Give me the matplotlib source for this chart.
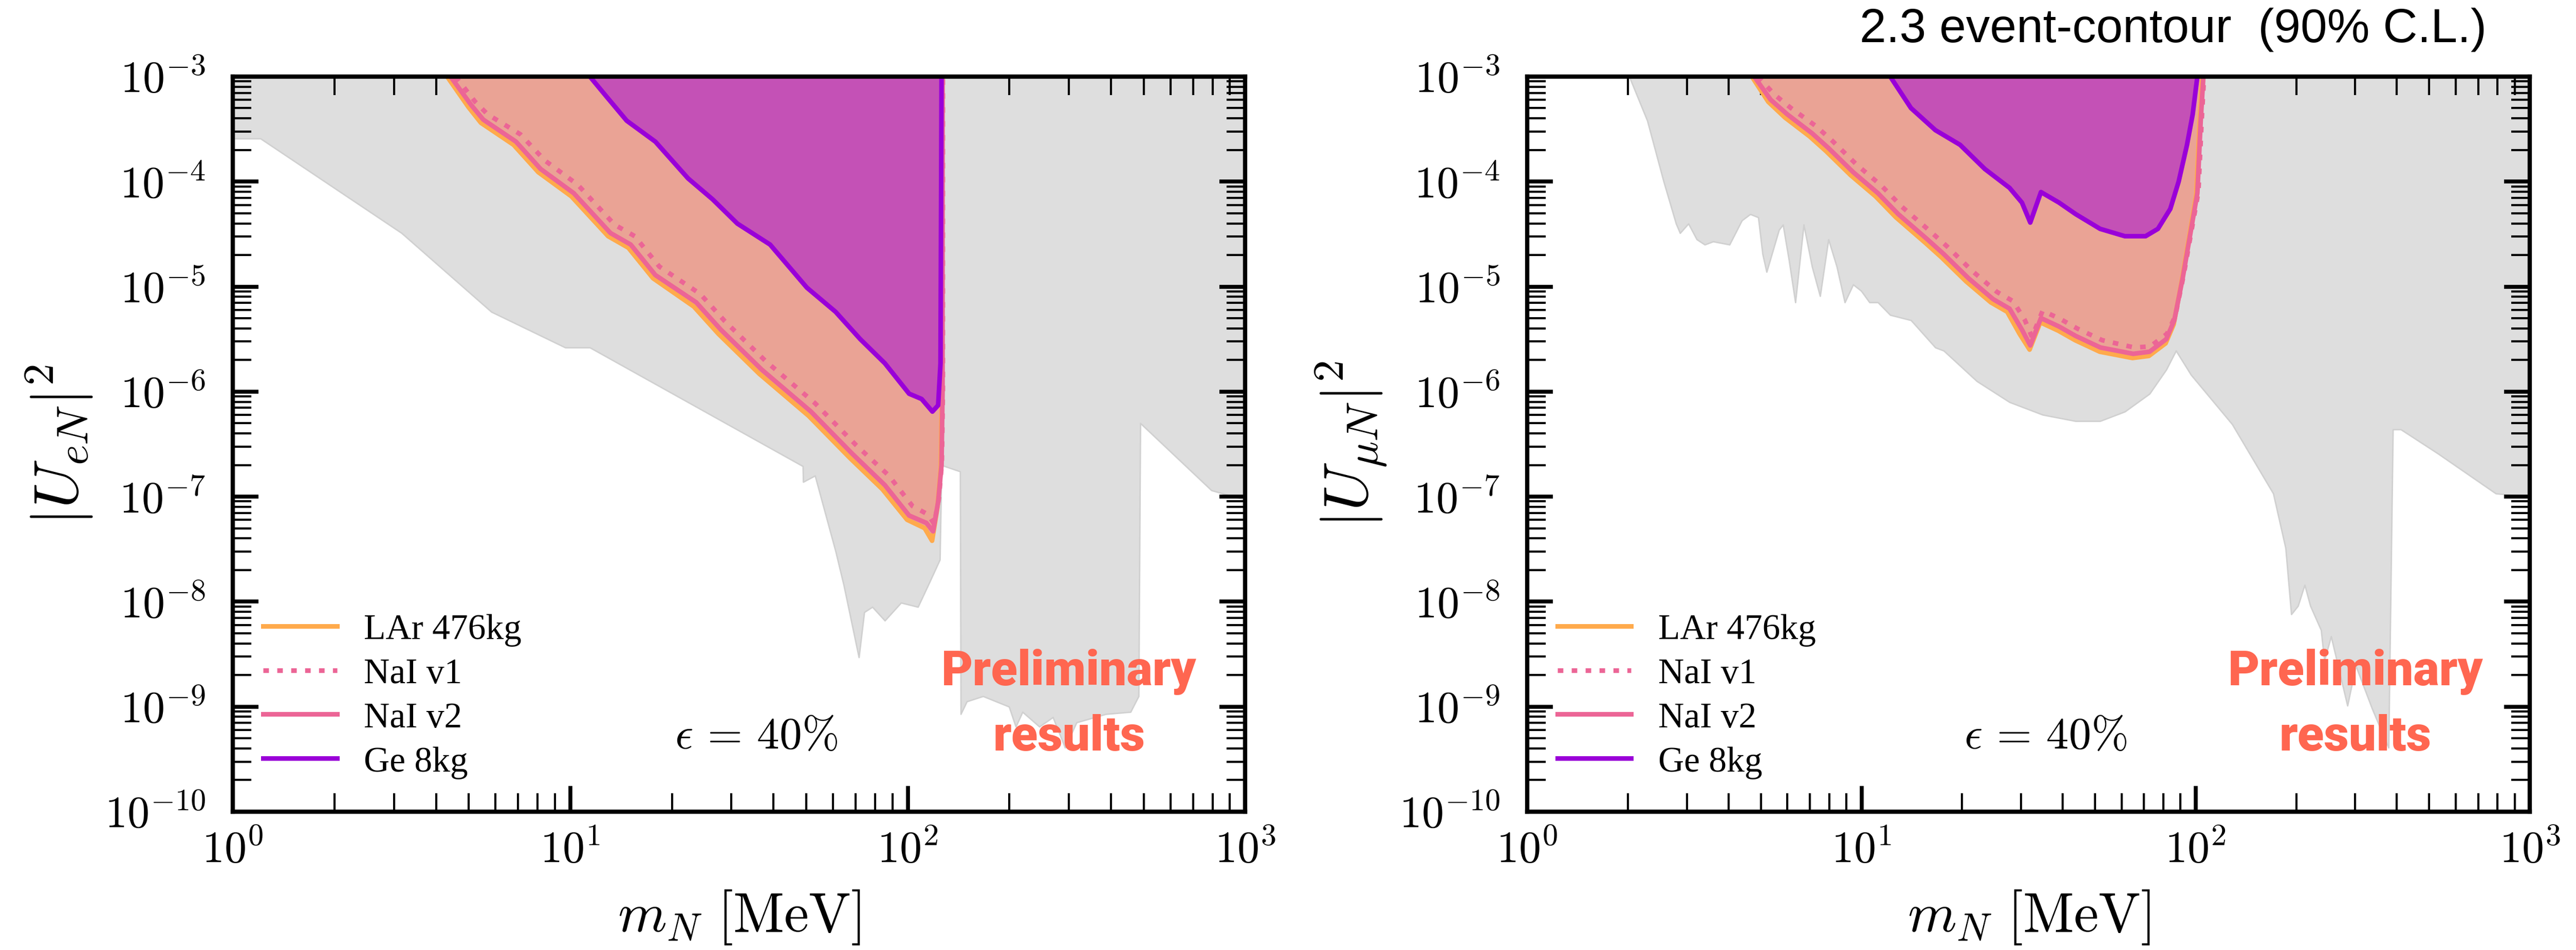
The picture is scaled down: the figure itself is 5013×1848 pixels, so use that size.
import numpy as np
import matplotlib
matplotlib.use('Agg')
import matplotlib.pyplot as plt
from matplotlib.ticker import LogLocator, NullFormatter, FuncFormatter

plt.rcParams['mathtext.fontset'] = 'cm'
plt.rcParams['font.family'] = ['Liberation Serif', 'DejaVu Serif']

# ---------------- data: log10(m_N / MeV), log10(|U|^2) ----------------
# electron mixing panel
gray_e_logm = [0.0, 0.082, 0.50, 0.766, 0.985, 1.058, 1.689, 1.690, 1.725, 1.786, 1.81, 1.855, 1.871,
               1.895, 1.932, 1.98, 2.03, 2.065, 2.095, 2.100, 2.155, 2.157, 2.175, 2.223, 2.30, 2.32,
               2.34, 2.39, 2.43, 2.466, 2.50, 2.587, 2.66, 2.684, 2.689, 2.90, 3.0]
gray_e_logU = [-3.59, -3.59, -4.49, -5.24, -5.58, -5.58, -6.71, -6.86, -6.80, -7.52, -7.84, -8.53, -8.10,
               -8.05, -8.18, -8.01, -8.05, -7.81, -7.60, -6.70, -6.76, -9.07, -8.95, -8.90, -9.00, -9.19,
               -9.05, -9.19, -9.10, -9.39, -9.15, -9.07, -9.05, -8.90, -6.30, -6.94, -7.03]

lar_e_logm = [0.635, 0.698, 0.735, 0.832, 0.905, 1.003, 1.112, 1.172, 1.245, 1.366, 1.439, 1.560, 1.706,
              1.828, 1.925, 1.998, 2.050, 2.072, 2.088, 2.098, 2.101, 2.101]
lar_e_logU = [-3.0, -3.29, -3.44, -3.65, -3.91, -4.14, -4.52, -4.63, -4.92, -5.19, -5.45, -5.83, -6.23,
              -6.63, -6.93, -7.22, -7.30, -7.42, -7.10, -6.72, -6.0, -3.0]

nai1_e_logm = [0.660, 0.718, 0.755, 0.852, 0.925, 1.022, 1.131, 1.191, 1.264, 1.385, 1.458, 1.579, 1.725,
               1.847, 1.944, 2.014, 2.060, 2.078, 2.092, 2.101, 2.104, 2.104]
nai1_e_logU = [-3.0, -3.24, -3.36, -3.55, -3.80, -4.03, -4.41, -4.52, -4.81, -5.07, -5.33, -5.71, -6.11,
               -6.51, -6.80, -7.09, -7.17, -7.26, -7.02, -6.68, -6.0, -3.0]

nai2_e_logm = [0.645, 0.706, 0.742, 0.839, 0.912, 1.010, 1.119, 1.179, 1.252, 1.373, 1.446, 1.567, 1.713,
               1.835, 1.932, 2.004, 2.055, 2.075, 2.090, 2.100, 2.103, 2.103]
nai2_e_logU = [-3.0, -3.27, -3.41, -3.62, -3.88, -4.11, -4.49, -4.60, -4.89, -5.15, -5.41, -5.79, -6.19,
               -6.59, -6.89, -7.18, -7.25, -7.33, -7.05, -6.70, -6.0, -3.0]

ge_e_logm = [1.058, 1.107, 1.167, 1.252, 1.349, 1.422, 1.495, 1.592, 1.701, 1.786, 1.859, 1.932, 2.004,
             2.041, 2.073, 2.090, 2.097, 2.100]
ge_e_logU = [-3.0, -3.19, -3.42, -3.62, -3.97, -4.17, -4.40, -4.60, -5.01, -5.24, -5.50, -5.73, -6.02,
             -6.07, -6.19, -6.13, -5.73, -3.0]

# muon mixing panel
gray_mu_logm = [0.305, 0.359, 0.408, 0.445, 0.457, 0.482, 0.507, 0.531, 0.556, 0.605, 0.642, 0.667, 0.691,
                0.704, 0.716, 0.753, 0.765, 0.783, 0.802, 0.827, 0.852, 0.876, 0.901, 0.926, 0.950, 0.975,
                0.999, 1.024, 1.049, 1.086, 1.148, 1.221, 1.246, 1.345, 1.443, 1.542, 1.640, 1.714, 1.788,
                1.862, 1.912, 1.941, 1.986, 2.109, 2.232, 2.269, 2.286, 2.306, 2.326, 2.343, 2.375, 2.385,
                2.405, 2.454, 2.479, 2.528, 2.577, 2.590, 2.614, 2.725, 2.898, 3.0]
gray_mu_logU = [-3.00, -3.42, -4.00, -4.40, -4.49, -4.40, -4.55, -4.60, -4.57, -4.60, -4.37, -4.31, -4.34,
                -4.69, -4.86, -4.46, -4.41, -4.75, -5.15, -4.41, -4.81, -5.09, -4.55, -4.81, -5.15, -4.98,
                -5.04, -5.15, -5.15, -5.27, -5.32, -5.58, -5.61, -5.90, -6.10, -6.22, -6.28, -6.28, -6.19,
                -6.02, -5.79, -5.61, -5.84, -6.31, -6.97, -7.49, -8.12, -8.04, -7.84, -8.04, -8.27, -8.56,
                -8.33, -8.99, -8.61, -9.02, -9.39, -6.36, -6.36, -6.59, -6.97, -7.00]

lar_mu_logm = [0.672, 0.721, 0.771, 0.845, 0.894, 0.968, 1.042, 1.103, 1.190, 1.239, 1.313, 1.387, 1.436,
               1.473, 1.503, 1.535, 1.589, 1.639, 1.713, 1.811, 1.860, 1.910, 1.934, 1.958, 1.983, 2.002,
               2.012, 2.020]
lar_mu_logU = [-3.0, -3.24, -3.39, -3.57, -3.71, -3.94, -4.14, -4.34, -4.58, -4.72, -4.95, -5.15, -5.24,
               -5.45, -5.60, -5.34, -5.42, -5.51, -5.62, -5.68, -5.66, -5.54, -5.36, -4.95, -4.48, -4.12,
               -3.43, -3.0]

nai1_mu_logm = [0.690, 0.739, 0.789, 0.863, 0.912, 0.986, 1.060, 1.121, 1.208, 1.257, 1.331, 1.405, 1.454,
                1.489, 1.510, 1.542, 1.596, 1.646, 1.720, 1.816, 1.864, 1.914, 1.939, 1.964, 1.989, 2.008,
                2.018, 2.025]
nai1_mu_logU = [-3.0, -3.17, -3.30, -3.47, -3.61, -3.84, -4.04, -4.24, -4.48, -4.62, -4.85, -5.05, -5.14,
                -5.32, -5.48, -5.23, -5.31, -5.40, -5.51, -5.58, -5.57, -5.45, -5.28, -4.89, -4.44, -4.10,
                -3.41, -3.0]

nai2_mu_logm = [0.679, 0.728, 0.778, 0.852, 0.901, 0.975, 1.049, 1.110, 1.197, 1.246, 1.320, 1.394, 1.443,
                1.480, 1.505, 1.537, 1.591, 1.641, 1.715, 1.813, 1.862, 1.912, 1.936, 1.961, 1.986, 2.005,
                2.015, 2.023]
nai2_mu_logU = [-3.0, -3.22, -3.36, -3.54, -3.68, -3.91, -4.11, -4.31, -4.55, -4.69, -4.92, -5.12, -5.21,
                -5.41, -5.56, -5.30, -5.38, -5.47, -5.58, -5.64, -5.62, -5.50, -5.32, -4.92, -4.46, -4.11,
                -3.42, -3.0]

ge_mu_logm = [1.086, 1.148, 1.221, 1.295, 1.369, 1.443, 1.480, 1.505, 1.537, 1.591, 1.641, 1.714, 1.788,
              1.850, 1.887, 1.924, 1.949, 1.974, 1.991, 2.005]
ge_mu_logU = [-3.0, -3.30, -3.51, -3.65, -3.88, -4.06, -4.20, -4.39, -4.10, -4.20, -4.31, -4.45, -4.52,
              -4.52, -4.45, -4.26, -4.00, -3.65, -3.36, -3.0]

labels = ['LAr 476kg', 'NaI v1', 'NaI v2', 'Ge 8kg']
ylabels = [r'$|U_{eN}|^2$', r'$|U_{\mu N}|^2$']
title_text = '2.3 event-contour  (90% C.L.)'
eps_text = r'$\epsilon\,=\,40\%$'

# ---------------- styling ----------------
C_GRAY = '#DEDEDE'
C_GRAY_EDGE = '#D0D0D0'
C_SALMON = '#EAA395'
C_PURPLE_FILL = '#C451B6'
C_PURPLE = '#9A00D8'
C_ORANGE = '#FFAA4C'
C_PINK = '#EC6596'
C_PRELIM = '#FF6650'

fig = plt.figure(figsize=(50.13, 18.49), dpi=100)
axL = fig.add_axes([0.0904, 0.1455, 0.3930, 0.7734])
axR = fig.add_axes([0.5929, 0.1455, 0.3892, 0.7734])

def p(a):
    return 10.0 ** np.asarray(a, dtype=float)

panels = [
    (axL, gray_e_logm, gray_e_logU, lar_e_logm, lar_e_logU, nai1_e_logm, nai1_e_logU,
     nai2_e_logm, nai2_e_logU, ge_e_logm, ge_e_logU, ylabels[0]),
    (axR, gray_mu_logm, gray_mu_logU, lar_mu_logm, lar_mu_logU, nai1_mu_logm, nai1_mu_logU,
     nai2_mu_logm, nai2_mu_logU, ge_mu_logm, ge_mu_logU, ylabels[1]),
]

LW = 6.5
for (ax, gm, gu, lm, lu, n1m, n1u, n2m, n2u, gem, geu, ylab) in panels:
    ax.set_xscale('log')
    ax.set_yscale('log')
    ax.set_xlim(1, 1e3)
    ax.set_ylim(1e-10, 1e-3)

    ax.fill_between(p(gm), p(gu), 1e-3, facecolor=C_GRAY, edgecolor=C_GRAY_EDGE, lw=2, zorder=1)
    ax.fill(p(lm), p(lu), facecolor=C_SALMON, edgecolor='none', zorder=2)
    ax.fill(p(gem), p(geu), facecolor=C_PURPLE_FILL, edgecolor='none', zorder=3)

    ax.plot(p(lm), p(lu), color=C_ORANGE, lw=LW, label=labels[0], zorder=4, solid_joinstyle='round')
    ax.plot(p(n1m), p(n1u), color=C_PINK, lw=LW, ls=(0, (1.2, 1.8)), label=labels[1], zorder=5)
    ax.plot(p(n2m), p(n2u), color=C_PINK, lw=LW, label=labels[2], zorder=6, solid_joinstyle='round')
    ax.plot(p(gem), p(geu), color=C_PURPLE, lw=LW, label=labels[3], zorder=7, solid_joinstyle='round')

    ax.xaxis.set_major_locator(LogLocator(base=10, numticks=10))
    ax.xaxis.set_minor_locator(LogLocator(base=10, subs=np.arange(2, 10), numticks=20))
    ax.yaxis.set_major_locator(LogLocator(base=10, numticks=20))
    ax.yaxis.set_minor_locator(LogLocator(base=10, subs=np.arange(2, 10), numticks=40))
    fmt = FuncFormatter(lambda v, _: r'$10^{%d}$' % int(round(np.log10(v))))
    ax.xaxis.set_major_formatter(fmt)
    ax.yaxis.set_major_formatter(fmt)
    ax.xaxis.set_minor_formatter(NullFormatter())
    ax.yaxis.set_minor_formatter(NullFormatter())

    ax.tick_params(which='both', direction='in', top=True, right=True, labelsize=62)
    ax.tick_params(which='major', length=36, width=5.5)
    ax.tick_params(which='minor', length=26, width=3)
    ax.tick_params(axis='x', which='major', pad=27)
    ax.tick_params(axis='y', which='major', pad=38)
    for s in ax.spines.values():
        s.set_linewidth(6)
        s.set_zorder(10)

    ax.set_xlabel(r'$m_N\ [\mathrm{MeV}]$', fontsize=78, labelpad=22)
    ax.set_ylabel(ylab, fontsize=88, labelpad=14)

    ax.legend(loc='lower left', bbox_to_anchor=(0.030, 0.045), frameon=False, fontsize=50,
              handlelength=2.07, handletextpad=0.75, labelspacing=0.32, borderaxespad=0,
              borderpad=0)

    ax.text(0.517, 0.087, eps_text, transform=ax.transAxes, ha='center', va='baseline', fontsize=63)
    ax.text(0.826, 0.173, 'Preliminary', transform=ax.transAxes, ha='center', va='baseline',
            fontsize=68, color=C_PRELIM, fontweight=900, family=['Roboto', 'Inter', 'DejaVu Sans'],
            zorder=12)
    ax.text(0.826, 0.084, 'results', transform=ax.transAxes, ha='center', va='baseline',
            fontsize=68, color=C_PRELIM, fontweight=900, family=['Roboto', 'Inter', 'DejaVu Sans'],
            zorder=12)

fig.text(4839 / 5013, 1 - 82 / 1849, title_text, ha='right', va='baseline', fontsize=67,
         family=['Liberation Sans Narrow', 'Liberation Sans', 'DejaVu Sans'])

fig.savefig('out.png', dpi=100)
